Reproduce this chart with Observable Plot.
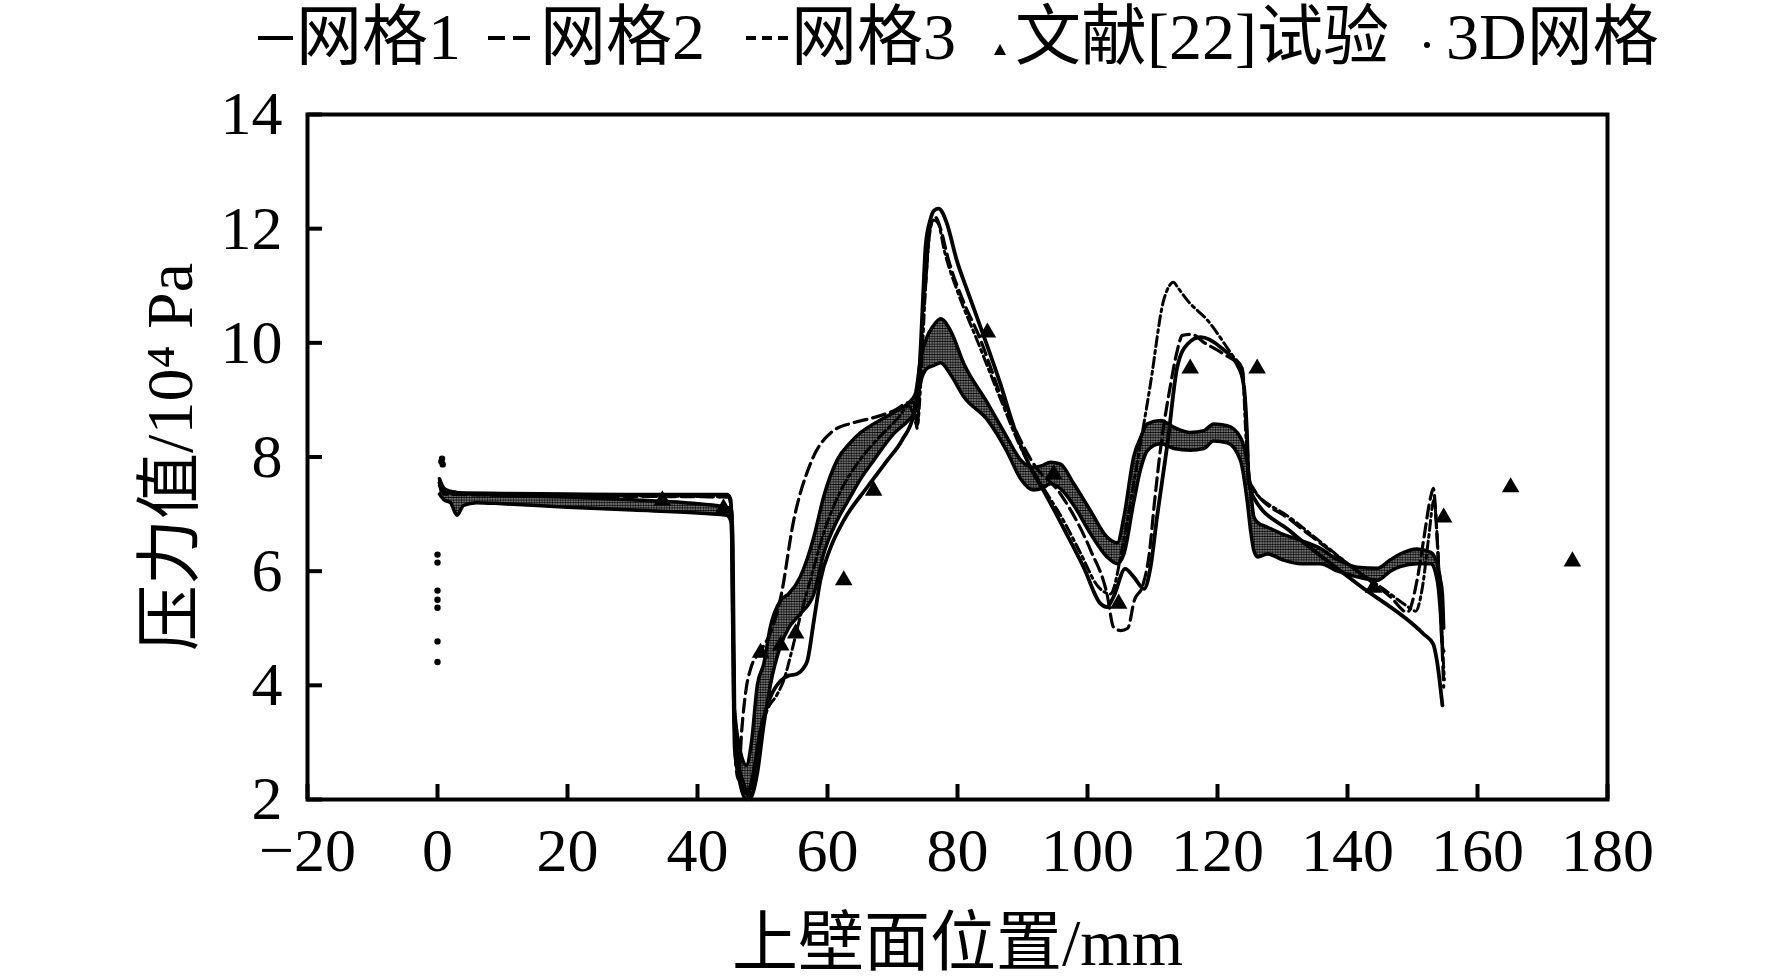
<!DOCTYPE html>
<html><head><meta charset="utf-8">
<script src="https://cdn.jsdelivr.net/npm/d3@7"></script>
<script src="https://cdn.jsdelivr.net/npm/@observablehq/plot@0.6"></script>
<style>
body{margin:0;background:#fff;width:1772px;height:977px;overflow:hidden;font-family:"Liberation Serif","Noto Sans CJK SC",serif;color:#000}
#legend{position:relative;height:75px;width:1772px}
#legend .lab{position:absolute;font-size:66px;line-height:66px;top:4px;white-space:nowrap;color:#000}
#legend .mk{position:absolute}
#chart svg{display:block}
</style></head><body>
<div id="legend"></div>
<div id="chart"></div>
<script>
// ---------- data ----------
const xTicks = [-20, 0, 20, 40, 60, 80, 100, 120, 140, 160, 180];
const yTicks = [2, 4, 6, 8, 10, 12, 14];
const xLabel = "上壁面位置/mm";
const yLabel = "压力值/10⁴ Pa";
const legendLabels = ["网格1", "网格2", "网格3", "文献[22]试验", "3D网格"];

// 网格1 (solid)
const grid1X = [0.3,1,3,10,20,30,40,44.6,45.1,45.3,45.6,46.2,47,47.6,48.3,49.7,51.2,52.8,54,55.3,56.3,56.9,57.9,58.9,60.5,62.5,66.1,69.2,71.5,73.3,74.2,74.7,75.1,75.8,76.4,77.1,77.7,78.4,79.9,81.5,84.1,86.6,88.7,91.2,93.3,96.8,99.4,102,103,104,105.8,107.1,108.7,109.7,110.7,112.3,113.8,115.4,117.4,120.5,123.5,124.1,124.5,124.8,125.5,131.2,141.5,151.7,153.2,153.8,154.6];
const grid1Y = [7.55,7.4,7.37,7.36,7.35,7.34,7.34,7.34,7.25,6.5,3.5,2.7,2.3,2.1,2.3,3.21,3.79,4.08,4.17,4.2,4.3,4.43,5.13,5.84,6.42,6.89,7.47,7.94,8.3,8.76,9.64,10.8,11.7,12.15,12.32,12.35,12.28,12.08,11.44,10.92,10.10,9.28,8.52,7.82,7.4,6.65,6.07,5.43,5.37,5.55,6.04,5.9,5.69,6.07,6.95,8.23,9.57,9.98,10.10,9.92,9.51,9.2,8.5,7.6,7.3,6.7,5.78,4.9,4.72,4.4,3.65];

// 网格2 (dashed)
const grid2X = [0.3,1,10,30,44.9,45.3,45.6,45.9,46.3,46.8,47.5,48.2,49.7,51.5,52.8,54.8,57.4,60.9,64,67.1,70.2,72.5,73.3,73.8,74.3,75.1,75.8,76.6,77.4,78.5,81,83,87.6,91.7,95.8,100.5,103,104,105.1,106.2,107.2,108.5,109.5,110.3,111.2,112.8,113.8,114.6,116,118,121,123.8,124.4,124.9,125.5,131.2,136.3,141.5,146.6,149.2,150.7,151.7,152.8,153.2,153.8,154.3,154.8];
const grid2Y = [7.5,7.35,7.33,7.31,7.3,7.0,4.0,2.6,2.35,3.2,3.95,4.3,4.6,5.0,5.54,6.89,7.89,8.46,8.6,8.69,8.81,8.95,8.95,8.5,9.74,11.03,12.03,12.2,12.0,11.5,10.7,10.2,8.81,7.88,7.36,6.36,5.6,5.02,4.96,5.0,5.49,5.75,6.3,7.2,8.11,9.28,9.86,10.13,10.15,10.0,9.8,9.55,8.6,7.6,7.45,6.9,6.45,6.0,5.55,5.28,5.84,6.54,7.3,7.45,6.54,5.37,3.97];

// 网格3 (dash-dot)
const grid3X = [0.3,1,10,30,44.8,45.3,45.7,46.3,47.2,47.9,48.6,49.5,50.7,52.3,53.3,54.5,55.8,57.5,59.5,62,65,68,71,72.5,73.2,73.8,74.4,75.0,75.6,76.3,77.0,78.0,80,83,86.5,90,93,96,99,101.5,103.5,105.5,107.1,109.7,111.7,112.6,113.2,114,115.4,118.5,122.5,123.8,124.4,124.9,126,131,136,141,146,149,150.5,151.5,152.5,153.3,153.8,154.3,154.9];
const grid3Y = [7.6,7.38,7.34,7.32,7.3,6.8,3.5,2.6,2.25,2.05,2.3,3.1,3.56,3.85,4.1,4.6,5.2,5.9,6.7,7.4,7.95,8.35,8.7,8.9,8.75,8.55,9.4,10.8,11.8,12.15,12.1,11.6,10.9,10.05,9.05,8.1,7.5,6.95,6.3,5.75,5.6,6.5,7.54,9.29,10.74,11.0,11.06,10.95,10.74,10.39,9.75,9.55,8.3,7.5,7.35,6.95,6.5,6.05,5.65,5.4,5.3,5.7,6.6,7.25,6.6,5.4,4.1];

// 3D网格 (dense point band: lower / upper envelope)
const band3dX  = [0.3,1,2,3,4,6,10,20,30,40,44.5,45.2,45.45,45.7,46.5,47.5,48.3,49.2,50.2,51.2,52.8,54,55.8,57.9,59.4,61.5,63.5,65,67.1,70.2,72.5,73.5,74.3,75.3,76.3,77.4,78.9,81,84.6,87.6,89.7,91.7,93,94.3,95.8,97.9,100.5,103,104.6,105.6,107.1,108.2,109.2,111.2,113.3,115.8,117.9,119.4,121.5,123.5,124.6,125.1,125.6,126.2,127.7,130,132.8,135.8,138.5,141.5,144.6,146.6,148.1,150.7,152.8,153.8,154.3,154.6,154.8];
const band3dLo = [7.35,7.25,7.2,6.98,7.15,7.2,7.18,7.12,7.07,7.02,6.98,6.85,5.0,2.9,2.3,2.0,2.05,2.45,3.3,4.0,4.7,5.0,5.25,5.6,6.3,6.89,7.3,7.6,7.94,8.41,8.65,8.8,9.3,9.55,9.6,9.65,9.45,9.05,8.65,8.1,7.62,7.42,7.45,7.53,7.45,7.15,6.65,6.25,6.13,6.3,7.2,7.8,8.11,8.23,8.15,8.12,8.15,8.28,8.25,7.95,7.2,6.7,6.36,6.25,6.3,6.2,6.13,6.13,6.0,5.9,5.84,6.0,6.08,6.13,6.13,5.84,5.26,4.67,4.6];
const band3dHi = [7.62,7.45,7.4,7.38,7.36,7.35,7.33,7.3,7.25,7.18,7.12,7.08,6.5,3.6,2.9,2.6,3.0,4.0,4.38,5.02,5.49,5.6,5.9,6.6,7.3,7.95,8.25,8.42,8.58,8.78,8.95,9.1,9.7,10.1,10.3,10.42,10.22,9.63,8.95,8.35,7.95,7.82,7.85,7.91,7.88,7.53,7.05,6.6,6.5,6.95,8.0,8.35,8.58,8.64,8.52,8.43,8.46,8.58,8.55,8.35,7.88,7.4,6.95,6.85,6.77,6.65,6.54,6.4,6.2,6.07,6.05,6.2,6.3,6.39,6.33,6.13,5.85,5.6,5.0];
// 3D网格 scattered inlet points
const inlet3dX = [0,0,0,0,0,0,0,0.6,0.7,0.8];
const inlet3dY = [4.41,4.77,5.36,5.5,5.66,6.15,6.29,7.92,7.97,7.87];

// 文献[22]试验 (triangles)
const expX = [34.6,44.0,49.7,52.8,55.1,62.5,67.1,84.6,94.8,104.8,115.8,126.1,144.0,154.8,165.1,174.6];
const expY = [7.24,7.1,4.57,4.7,4.91,5.84,7.41,10.18,7.7,5.43,9.55,9.55,5.71,6.94,7.47,6.17];

// ---------- tables ----------
const toRows = (xs, ys) => xs.map((x, i) => ({x, y: ys[i]}));
const grid1 = toRows(grid1X, grid1Y);
const grid2 = toRows(grid2X, grid2Y);
const grid3 = toRows(grid3X, grid3Y);
const band = band3dX.map((x, i) => ({x, lo: band3dLo[i], hi: band3dHi[i]}));
const inlet = toRows(inlet3dX, inlet3dY);
const exp = toRows(expX, expY);

// ---------- legend (HTML, above the SVG) ----------
const legendLayout = [
  {mk: "left:258px;top:36px;width:35px;height:4px;background:#000;", lab: 296},
  {mk: "left:488px;top:36px;width:42px;height:4px;background:repeating-linear-gradient(to right,#000 0 17px,transparent 17px 25px);", lab: 540},
  {mk: "left:746px;top:36px;width:42px;height:4px;background:repeating-linear-gradient(to right,#000 0 10px,transparent 10px 16px);", lab: 791},
  {mk: "left:994px;top:44px;width:0;height:0;border-left:6px solid transparent;border-right:6px solid transparent;border-bottom:11px solid #000;", lab: 1015},
  {mk: "left:1424px;top:42px;width:6px;height:6px;border-radius:3px;background:#000;", lab: 1446}
];
const legend = document.getElementById("legend");
legendLabels.forEach((lab, i) => {
  const m = document.createElement("div");
  m.className = "mk";
  m.style.cssText = legendLayout[i].mk;
  legend.appendChild(m);
  const t = document.createElement("span");
  t.className = "lab";
  t.textContent = lab;
  t.style.left = legendLayout[i].lab + "px";
  legend.appendChild(t);
});

// ---------- chart ----------
const fmt = d => d < 0 ? "\u2212" + Math.abs(d) : String(d);
const font = "'Liberation Serif','Noto Sans CJK SC',serif";
const plot = Plot.plot({
  width: 1772, height: 902,
  marginLeft: 307, marginRight: 165, marginTop: 39, marginBottom: 178,
  x: {domain: [-20, 180], label: null},
  y: {domain: [2, 14], label: null},
  style: {fontFamily: font, fontSize: "62px", color: "#000", background: "#fff", overflow: "visible"},
  marks: [
    Plot.areaY(band, {x: "x", y1: "lo", y2: "hi", fill: "#000", fillOpacity: 0.35, curve: "monotone-x"}),
    Plot.areaY(band, {x: "x", y1: "lo", y2: "hi", fill: "url(#stip)", curve: "monotone-x"}),
    Plot.line(band, {x: "x", y: "lo", stroke: "#000", strokeWidth: 3.5, curve: "monotone-x"}),
    Plot.line(band, {x: "x", y: "hi", stroke: "#000", strokeWidth: 3.5, curve: "monotone-x"}),
    Plot.dot(inlet, {x: "x", y: "y", r: 3.2, fill: "#000", stroke: null}),
    Plot.line(grid3, {x: "x", y: "y", stroke: "#000", strokeWidth: 3, strokeDasharray: "10,4,3,4", curve: "monotone-x"}),
    Plot.line(grid2, {x: "x", y: "y", stroke: "#000", strokeWidth: 3.2, strokeDasharray: "13,6", curve: "monotone-x"}),
    Plot.line(grid1, {x: "x", y: "y", stroke: "#000", strokeWidth: 3.8, curve: "monotone-x"}),
    Plot.dot(exp, {x: "x", y: "y", symbol: "triangle", r: 6.5, fill: "#000", stroke: null}),
    Plot.frame({stroke: "#000", strokeWidth: 4}),
    Plot.tickX(xTicks, {x: d => d, insetTop: 670, stroke: "#000", strokeWidth: 4}),
    Plot.tickY(yTicks, {y: d => d, insetRight: 1285, stroke: "#000", strokeWidth: 4}),
    Plot.axisX({ticks: xTicks, tickSize: 0, tickPadding: 27, tickFormat: fmt, fontSize: 62, label: null}),
    Plot.axisY({ticks: yTicks, tickSize: 0, tickPadding: 25, tickFormat: fmt, fontSize: 62, label: null}),
    Plot.text([yLabel], {frameAnchor: "left", dx: -137, rotate: -90, textAnchor: "middle", lineAnchor: "middle", text: d => d, fontSize: 66, fill: "#000"}),
    Plot.text([xLabel], {frameAnchor: "bottom", dy: 144, textAnchor: "middle", lineAnchor: "middle", text: d => d, fontSize: 66, fill: "#000"})
  ]
});
plot.insertAdjacentHTML("afterbegin",
  '<defs><pattern id="stip" width="2.6" height="2.6" patternUnits="userSpaceOnUse"><circle cx="1.3" cy="1.3" r="1.15" fill="#000"/></pattern></defs>');
document.getElementById("chart").appendChild(plot);
</script>
</body></html>
